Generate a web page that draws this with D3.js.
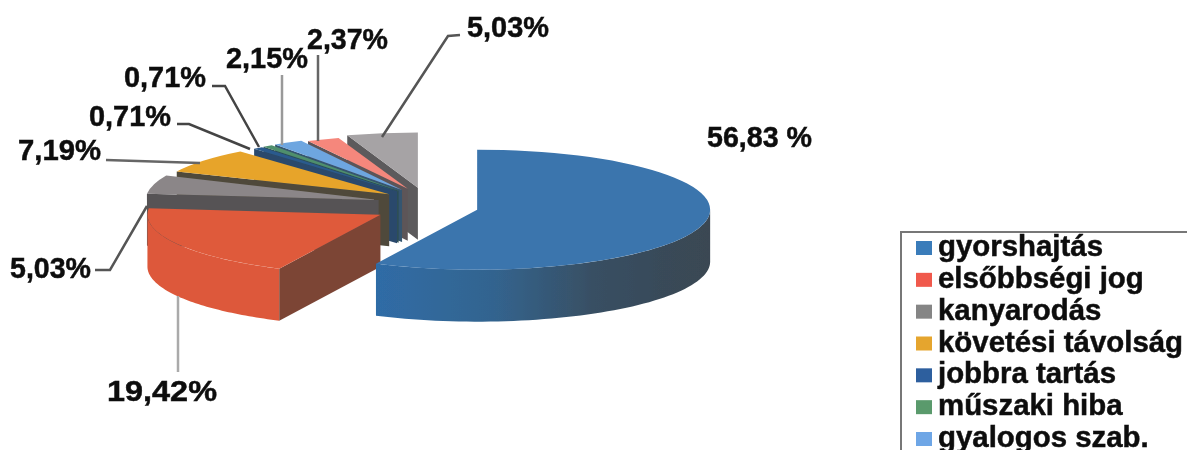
<!DOCTYPE html>
<html><head><meta charset="utf-8">
<script src="https://cdn.jsdelivr.net/npm/d3@7/dist/d3.min.js"></script>
<style>html,body{margin:0;padding:0;background:#fff;overflow:hidden}svg{display:block}
text{font-family:"Liberation Sans",Arial,sans-serif;font-weight:700;fill:#111;stroke:#111;stroke-width:0.5px}</style>
</head><body><svg id="c" width="1187" height="450"></svg>
<script>
const legendNames = ["gyorshajtás","elsőbbségi jog","kanyarodás","követési távolság","jobbra tartás","műszaki hiba","gyalogos szab."];
const values = [56.83,19.42,5.03,7.19,0.71,0.71,2.15,2.37,5.03];
const valueLabels = ["56,83 %","19,42%","5,03%","7,19%","0,71%","0,71%","2,15%","2,37%","5,03%"];
const topColors = ["#3a74ad","#df5a3b","#8b8688","#e7a42a","#2c5a8e","#4f8f6c","#6ea6e0","#f5877c","#a6a3a5"];
const faceColors = ["#2f5f8f","#7c4536","#565354","#4f4a3a","#2a4a6c","#2d4f55","#35546f","#5d5558","#5c5a5b"];
const legendColors = ["#3a7cba","#f0594c","#858585","#e5a52e","#2d5f9e","#5a9a6c","#6ea6e6"];
const explode = [53.5,51,48,45,45,45,45,45,45];
const radiusK = [1,1,1,1,0.96,0.96,0.96,0.95,0.97];
const flatK = [1,1,1,0.93,0.92,0.92,0.92,0.89,0.92];

const svg = d3.select("#c");
const cx=425, cy=205, rx=233, ry=60, depth=52, ky=0.39;

const defs=svg.append("defs");
const g=defs.append("linearGradient").attr("id","blueWall");
[[0,"#2f6ca6"],[0.35,"#33648f"],[0.65,"#384f63"],[1,"#3a4752"]].forEach(s=>g.append("stop").attr("offset",s[0]).attr("stop-color",s[1]));
const soft=defs.append("filter").attr("id","soft");
soft.append("feGaussianBlur").attr("stdDeviation",0.7);
const softT=defs.append("filter").attr("id","softT").attr("x","-5%").attr("width","110%");
softT.append("feGaussianBlur").attr("stdDeviation",0.45);

const pie=d3.pie().sort(null);
const arcs=pie(values).map((d,i)=>{
  const mid=(d.startAngle+d.endAngle)/2;
  return {...d,i,mid,r:rx*radiusK[i],h:ry*flatK[i],c:{x:cx+explode[i]*Math.sin(mid),y:cy-explode[i]*ky*Math.cos(mid)}};
});
const px=(a,s)=>s.c.x+s.r*Math.sin(a), py=(a,s)=>s.c.y-s.h*Math.cos(a);
const topArc=d3.arc().innerRadius(0);
const area=d3.area().x(d=>d.x).y0(d=>d.y).y1(d=>d.y+depth);
const order=[8,7,6,5,4,3,2,1,0];
const pieG=svg.append("g").attr("filter","url(#soft)");
order.forEach(i=>{
  const s=arcs[i], G=pieG.append("g");
  const a0=Math.max(s.startAngle,Math.PI/2), a1=Math.min(s.endAngle,3*Math.PI/2);
  if(a1>a0){
    const pts=d3.range(0,61).map(k=>{const a=a0+(a1-a0)*k/60;return {x:px(a,s),y:py(a,s)};});
    G.append("path").attr("d",area(pts)).attr("fill",i===0?"url(#blueWall)":"#dd593a");
  }
  if(Math.sin(s.startAngle)<-1e-6){
    const f=[{x:s.c.x,y:s.c.y},{x:px(s.startAngle,s),y:py(s.startAngle,s)}];
    G.append("path").attr("d",area(f)).attr("fill",faceColors[i]);
  }
  G.append("path").attr("d",topArc.outerRadius(s.r)(s)).attr("fill",topColors[i])
   .attr("transform",`translate(${s.c.x},${s.c.y}) scale(1,${s.h/s.r})`);
});

const line=d3.line();
const leaders=[
 {p:[[460,35],[448,36],[382,137]],c:"#555"},
 {p:[[318,55],[318,141]],c:"#666"},
 {p:[[282,75],[282,145]],c:"#999"},
 {p:[[212,86],[225,86],[259,147]],c:"#444"},
 {p:[[177,124],[189,124],[250,149]],c:"#444"},
 {p:[[106,160],[200,163]],c:"#666"},
 {p:[[95,270],[110,270],[147,206]],c:"#555"},
 {p:[[178,296],[178,372]],c:"#aaa"},
];
leaders.forEach(l=>svg.append("path").attr("d",line(l.p)).attr("fill","none").attr("stroke",l.c).attr("stroke-width",2.5));

const labelPos=[[707,147],[107,401],[10,278],[18,160],[89,126],[124,87],[226,68],[307,49],[467,37]];
const labelW=[105,110,81,83,82,82,82,81,82];
const texts=svg.append("g").attr("filter","url(#softT)");
valueLabels.forEach((t,i)=>texts.append("text").attr("x",labelPos[i][0]).attr("y",labelPos[i][1])
  .attr("font-size",30).attr("textLength",labelW[i]).attr("lengthAdjust","spacingAndGlyphs").text(t));

const legend=svg.append("g");
legend.append("rect").attr("x",901).attr("y",232).attr("width",300).attr("height",240).attr("fill","#fff").attr("stroke","#777").attr("stroke-width",2);
const ly=d3.scaleLinear().domain([0,6]).range([256,447]);
const legText=legend.append("g").attr("filter","url(#softT)");
legendNames.forEach((t,i)=>{
  legend.append("rect").attr("x",916).attr("y",ly(i)-15).attr("width",16).attr("height",14).attr("fill",legendColors[i]);
  legText.append("text").attr("x",938).attr("y",ly(i)).attr("font-size",29.4).text(t);
});
</script></body></html>
